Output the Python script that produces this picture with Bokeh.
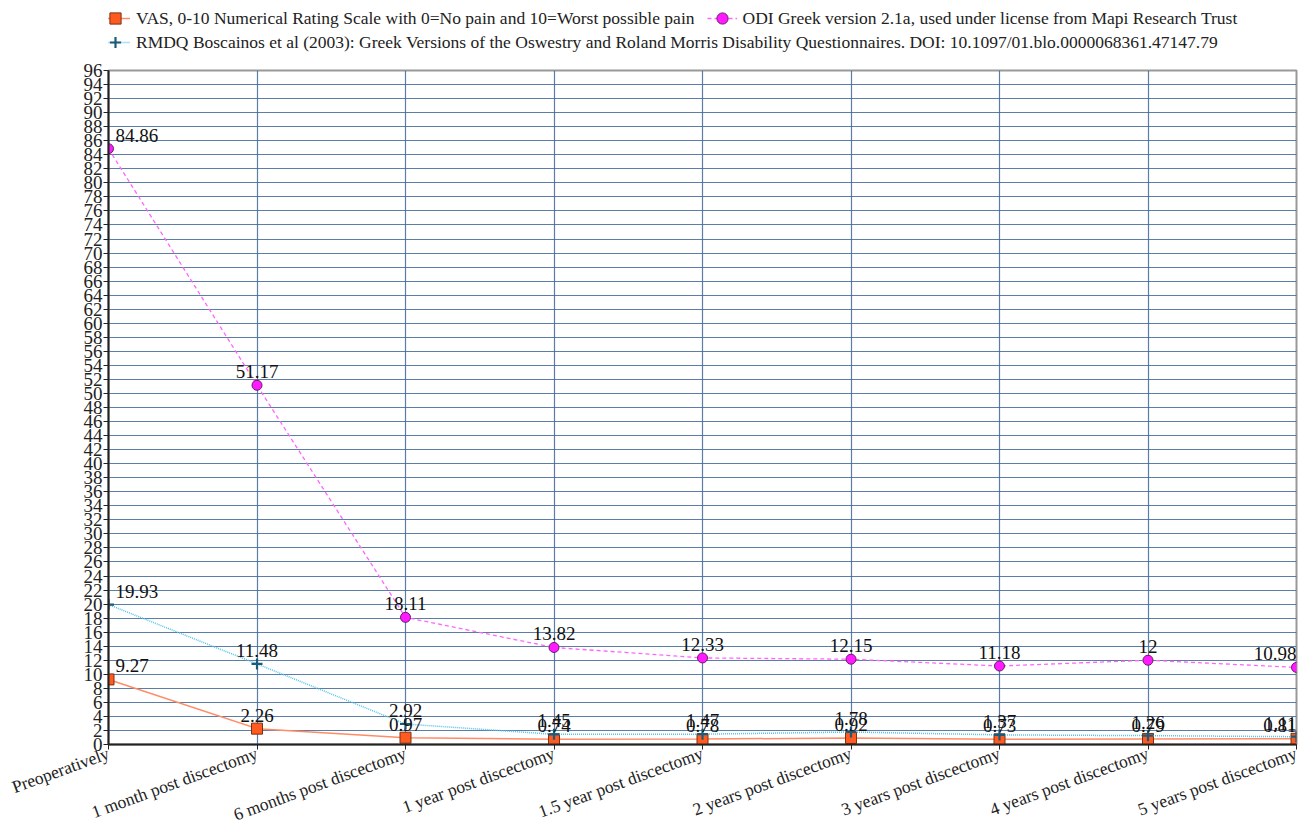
from bokeh.plotting import figure
from bokeh.layouts import column
from bokeh.models import (ColumnDataSource, Range1d, FixedTicker, Legend, LegendItem)
from bokeh.core.properties import value
from bokeh.embed import file_html
from bokeh.resources import INLINE

categories = ["Preoperatively", "1 month post discectomy", "6 months post discectomy",
              "1 year post discectomy", "1.5 year post discectomy", "2 years post discectomy",
              "3 years post discectomy", "4 years post discectomy", "5 years post discectomy"]
vas = [9.27, 2.26, 0.97, 0.74, 0.78, 0.92, 0.73, 0.79, 0.81]
odi = [84.86, 51.17, 18.11, 13.82, 12.33, 12.15, 11.18, 12, 10.98]
rmdq = [19.93, 11.48, 2.92, 1.45, 1.47, 1.78, 1.37, 1.26, 1.11]

vas_name = "VAS, 0-10 Numerical Rating Scale with 0=No pain and 10=Worst possible pain"
odi_name = "ODI Greek version 2.1a, used under license from Mapi Research Trust"
rmdq_name = ("RMDQ Boscainos et al (2003): Greek Versions of the Oswestry and Roland Morris "
             "Disability Questionnaires. DOI: 10.1097/01.blo.0000068361.47147.79")

FONT = "Liberation Serif"
xs = list(range(len(categories)))
n = len(xs)
aligns = ["left"] + ["center"] * (n - 2) + ["right"]
xoffs = [7 if a == "left" else 0 for a in aligns]

VAS_STYLE = dict(line=dict(line_color="#ff8c66", line_width=1.5),
                 mark=dict(marker="square", size=11, fill_color="#ff5a1f",
                           line_color="#7a3312", line_width=1))
ODI_STYLE = dict(line=dict(line_color="#ff66ff", line_width=1.3, line_dash="4 3"),
                 mark=dict(marker="circle", size=10, fill_color="#ff1aff",
                           line_color="#6b1a6b", line_width=1))
RM_STYLE = dict(line=dict(line_color="#55c3ea", line_width=1.5, line_dash="1 1"),
                mark=dict(marker="cross", size=11, line_color="#1c5a78", line_width=2.2))


def fmt(v):
    return ("%.2f" % v).rstrip("0").rstrip(".")


src = ColumnDataSource(dict(x=xs, vas=vas, odi=odi, rmdq=rmdq,
                            vas_t=[fmt(v) for v in vas], odi_t=[fmt(v) for v in odi],
                            rmdq_t=[fmt(v) for v in rmdq], align=aligns, xoff=xoffs))

# ---------------- main chart ----------------
p = figure(frame_width=1188, frame_height=674, output_backend="svg", toolbar_location=None,
           x_range=Range1d(0, 8), y_range=Range1d(0, 96),
           min_border_left=108, min_border_right=3, min_border_bottom=40, min_border_top=12)
p.outline_line_color = "#999999"
p.outline_line_width = 2
p.background_fill_color = "white"
p.border_fill_color = "white"

p.xaxis.ticker = FixedTicker(ticks=xs)
p.xaxis.major_label_overrides = {i: c for i, c in enumerate(categories)}
p.xaxis.major_label_orientation = 0.35
p.yaxis.ticker = FixedTicker(ticks=list(range(0, 97, 2)))
for ax in (p.xaxis, p.yaxis):
    ax.major_label_text_font = FONT
    ax.major_label_text_color = "#222222"
    ax.axis_line_color = "#222222"
    ax.axis_line_width = 2
    ax.major_tick_line_color = "#222222"
    ax.major_tick_in = 0
    ax.major_tick_out = 5
    ax.minor_tick_line_color = None
p.yaxis.major_label_text_font_size = "19px"
p.xaxis.major_label_text_font_size = "17.5px"
p.yaxis.major_label_standoff = 1
p.xaxis.major_label_standoff = 3

p.xgrid.ticker = FixedTicker(ticks=xs)
p.ygrid.ticker = FixedTicker(ticks=list(range(0, 97, 2)))
for g in (p.xgrid, p.ygrid):
    g.grid_line_color = "#3d6796"
    g.grid_line_alpha = 0.85
    g.grid_line_width = 1.2

p.line("x", "vas", source=src, **VAS_STYLE["line"])
p.scatter("x", "vas", source=src, **VAS_STYLE["mark"])
p.line("x", "odi", source=src, **ODI_STYLE["line"])
p.scatter("x", "odi", source=src, **ODI_STYLE["mark"])
p.line("x", "rmdq", source=src, **RM_STYLE["line"])
p.scatter("x", "rmdq", source=src, **RM_STYLE["mark"])

for col in ("vas", "odi", "rmdq"):
    p.text("x", col, text=col + "_t", source=src, text_font=value(FONT),
           text_font_size="19px", text_color="#111111", text_align="align",
           text_baseline="bottom", x_offset="xoff", y_offset=-7)

# ---------------- legend strip ----------------
# the legend renderers use the same data but the strip's ranges keep them out of view
lf = figure(width=1301, height=58, output_backend="svg", toolbar_location=None,
            x_axis_location=None, y_axis_location=None,
            min_border=0, x_range=Range1d(-20, -19), y_range=Range1d(-20, -19))
lf.outline_line_color = None
lf.grid.visible = False
rv_l = lf.line("x", "vas", source=src, **VAS_STYLE["line"])
rv_m = lf.scatter("x", "vas", source=src, **VAS_STYLE["mark"])
ro_l = lf.line("x", "odi", source=src, **ODI_STYLE["line"])
ro_m = lf.scatter("x", "odi", source=src, **ODI_STYLE["mark"])
rr_l = lf.line("x", "rmdq", source=src, **RM_STYLE["line"])
rr_m = lf.scatter("x", "rmdq", source=src, **RM_STYLE["mark"])

leg1 = Legend(items=[LegendItem(label=vas_name, renderers=[rv_l, rv_m]),
                     LegendItem(label=odi_name, renderers=[ro_l, ro_m])],
              orientation="horizontal", location=(-8, 26))
leg2 = Legend(items=[LegendItem(label=rmdq_name, renderers=[rr_l, rr_m])],
              orientation="horizontal", location=(-8, 2))
for lg in (leg1, leg2):
    lg.label_text_font = FONT
    lg.label_text_font_size = "17.5px"
    lg.label_text_color = "#222222"
    lg.glyph_width = 30
    lg.glyph_height = 28
    lg.label_standoff = 6
    lg.spacing = 12
    lg.padding = 0
    lg.margin = 0
    lg.border_line_color = None
    lg.background_fill_alpha = 0
    lg.label_height = 20
    lf.add_layout(lg, "center")

layout = column(lf, p, spacing=0)
open("out.html", "w").write(file_html(layout, INLINE))
